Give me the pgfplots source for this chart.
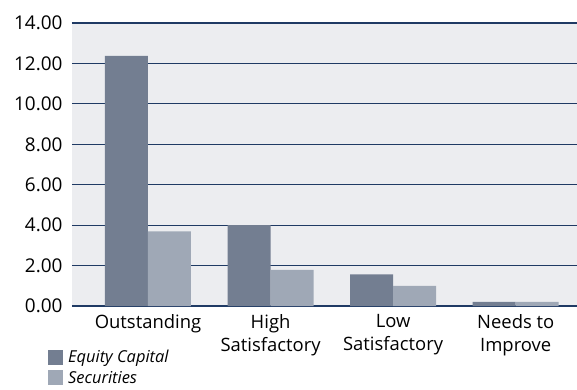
\documentclass[border=0pt]{standalone}
\usepackage{pgfplots}
\pgfplotsset{compat=1.18}
\usepackage{fontspec}
\setmainfont{Open Sans}
\definecolor{eq}{HTML}{737E91}
\definecolor{sec}{HTML}{9FA8B6}
\definecolor{bgc}{HTML}{ECEDF0}
\definecolor{gridc}{HTML}{1F3A64}
\begin{document}
\begin{tikzpicture}
\begin{axis}[
  at={(0,0)}, anchor=south west,
  scale only axis, width=505bp, height=283bp,
  xmin=-0.62, xmax=3.5, ymin=0, ymax=14,
  ybar=0pt, bar width=43bp,
  axis line style={draw=none},
  tick style={draw=none},
  xtick={0,1,2,3},
  xticklabels={Outstanding, High\\Satisfactory, Low\\Satisfactory, Needs to\\Improve},
  xticklabel style={align=center, font=\fontsize{18.5}{23}\selectfont, yshift=-1bp},
  ytick={0,2,...,14},
  yticklabel style={font=\fontsize{19}{20}\selectfont, xshift=-6bp,
    /pgf/number format/.cd, fixed, fixed zerofill, precision=2, assume math mode=true},
  ymajorgrids, grid style={gridc, line width=1bp},
  extra y ticks={0,14}, extra y tick labels={},
  extra y tick style={grid style={gridc, line width=2.2bp}},
  axis background/.style={fill=bgc},
  legend style={at={(axis description cs:-0.0475,-0.148)}, anchor=north west,
    draw=none, fill=none, font=\itshape\fontsize{16.5}{18}\selectfont,
    row sep=3bp, inner sep=0pt, nodes={inner xsep=5bp}},
  legend cell align=left,
]
\addplot[fill=eq, draw=none, legend image code/.code={\fill[eq] (0bp,-7.5bp) rectangle (15bp,7.5bp);}]
  coordinates {(0,12.37) (1,4.0) (2,1.56) (3,0.2)};
\addplot[fill=sec, draw=none, legend image code/.code={\fill[sec] (0bp,-7.5bp) rectangle (15bp,7.5bp);}]
  coordinates {(0,3.69) (1,1.79) (2,0.99) (3,0.21)};
\legend{Equity Capital, Securities}
\end{axis}
\pgfresetboundingbox
\path[use as bounding box] (-72bp,-84bp) rectangle (505bp,306bp);
\end{tikzpicture}
\end{document}
